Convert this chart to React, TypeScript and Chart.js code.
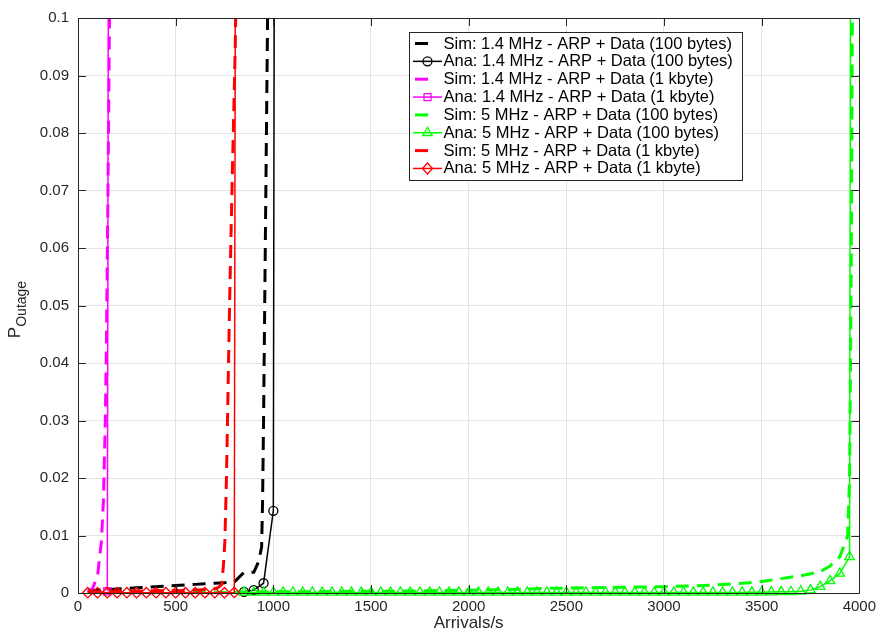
import React, { useEffect, useRef } from 'react';
import { Chart, registerables } from 'chart.js';

Chart.register(...registerables);

const FONT = '"Liberation Sans", Arial, Helvetica, sans-serif';

const xTickValues = [0, 500, 1000, 1500, 2000, 2500, 3000, 3500, 4000];
const xTickLabels = ['0', '500', '1000', '1500', '2000', '2500', '3000', '3500', '4000'];
const yTickValues = [0, 0.01, 0.02, 0.03, 0.04, 0.05, 0.06, 0.07, 0.08, 0.09, 0.1];
const yTickLabels = ['0', '0.01', '0.02', '0.03', '0.04', '0.05', '0.06', '0.07', '0.08', '0.09', '0.1'];

const seriesNames = [
  'Sim: 1.4 MHz - ARP + Data (100 bytes)',
  'Ana: 1.4 MHz - ARP + Data (100 bytes)',
  'Sim: 1.4 MHz - ARP + Data (1 kbyte)',
  'Ana: 1.4 MHz - ARP + Data (1 kbyte)',
  'Sim: 5 MHz - ARP + Data (100 bytes)',
  'Ana: 5 MHz - ARP + Data (100 bytes)',
  'Sim: 5 MHz - ARP + Data (1 kbyte)',
  'Ana: 5 MHz - ARP + Data (1 kbyte)',
];

// 1.4 MHz, 100 bytes
const simBlackX = [50, 100, 150, 200, 250, 300, 350, 400, 450, 500, 550, 600, 650, 700, 750, 800, 850, 900, 925, 940, 945, 950, 955, 960, 965, 970, 975];
const simBlackY = [0.0004, 0.0005, 0.0006, 0.0007, 0.0008, 0.0009, 0.001, 0.0011, 0.0012, 0.0013, 0.0014, 0.0015, 0.0016, 0.0017, 0.0018, 0.0019, 0.0036, 0.0036, 0.0055, 0.008, 0.016, 0.03, 0.047, 0.064, 0.081, 0.098, 0.115];
const anaBlackX = [850, 900, 950, 1000, 1050];
const anaBlackY = [0.0002, 0.0005, 0.0017, 0.0143, 1];

// 1.4 MHz, 1 kbyte
const simMagX = [50, 75, 100, 110, 120, 130, 140, 145, 150, 155, 160, 165];
const simMagY = [0.0002, 0.0008, 0.003, 0.006, 0.009, 0.016, 0.03, 0.042, 0.058, 0.076, 0.095, 0.115];
const anaMagX = [150, 200];
const anaMagY = [0.0003, 1];

// 5 MHz, 100 bytes
const simGreenX = [50, 200, 400, 600, 800, 1000, 1200, 1400, 1600, 1800, 2000, 2200, 2400, 2600, 2800, 3000, 3200, 3400, 3500, 3600, 3700, 3800, 3850, 3900, 3940, 3950, 3955, 3960, 3963, 3966, 3970];
const simGreenY = [0.0001, 0.0001, 0.0001, 0.0001, 0.0001, 0.0002, 0.0002, 0.0003, 0.0003, 0.0004, 0.0005, 0.0006, 0.0008, 0.0009, 0.001, 0.0011, 0.0013, 0.0017, 0.002, 0.0025, 0.003, 0.0037, 0.0047, 0.0063, 0.0099, 0.02, 0.04, 0.065, 0.09, 0.11, 0.13];
const anaGreenX = [
  850, 900, 950, 1000,
  1050, 1100, 1150, 1200, 1250, 1300, 1350, 1400, 1450, 1500, 1550, 1600, 1650, 1700, 1750, 1800, 1850, 1900, 1950, 2000,
  2050, 2100, 2150, 2200, 2250, 2300, 2350, 2400, 2450, 2500, 2550, 2600, 2650, 2700, 2750, 2800, 2850, 2900, 2950, 3000,
  3050, 3100, 3150, 3200, 3250, 3300, 3350, 3400, 3450, 3500, 3550, 3600, 3650, 3700, 3750, 3800, 3850, 3900, 3950, 4000,
];
const anaGreenY = [
  0.0001, 0.0001, 0.0001, 0.0001,
  0.0001, 0.0001, 0.0001, 0.0001, 0.0001, 0.0001, 0.0001, 0.0001, 0.0001, 0.0001, 0.0001, 0.0001, 0.0001, 0.0001, 0.0001, 0.0001, 0.0001, 0.0001, 0.0001, 0.0001,
  0.0001, 0.0001, 0.0001, 0.0001, 0.0001, 0.0001, 0.0001, 0.0001, 0.0001, 0.0001, 0.0001, 0.0001, 0.0001, 0.0001, 0.0001, 0.0001, 0.0001, 0.0001, 0.0001, 0.0001,
  0.0001, 0.0001, 0.0001, 0.0001, 0.0001, 0.0001, 0.0001, 0.0001, 0.00012, 0.00014, 0.00016, 0.0002, 0.00022, 0.0003, 0.0005, 0.0011, 0.0021, 0.0034, 0.0063, 1,
];

// 5 MHz, 1 kbyte
const simRedX = [50, 100, 200, 300, 400, 500, 600, 650, 700, 720, 736, 745, 752, 760, 768, 776, 785, 795, 805, 812];
const simRedY = [0.0002, 0.0002, 0.0003, 0.0003, 0.0004, 0.0004, 0.0005, 0.0006, 0.0007, 0.001, 0.0015, 0.005, 0.009, 0.02, 0.035, 0.05, 0.065, 0.08, 0.095, 0.11];
const anaRedX = [50, 100, 150, 200, 250, 300, 350, 400, 450, 500, 550, 600, 650, 700, 750, 800, 850];
const anaRedY = [0.00005, 0.00005, 0.00005, 0.00005, 0.00005, 0.00005, 0.00005, 0.00005, 0.00005, 0.00005, 0.00005, 0.00005, 0.00005, 0.00005, 0.00005, 0.0001, 1];

type Series = { x: number[]; y: number[]; color: string; kind: 'sim' | 'ana'; marker?: string };

const seriesList: Series[] = [
  { x: simBlackX, y: simBlackY, color: '#000000', kind: 'sim' },
  { x: anaBlackX, y: anaBlackY, color: '#000000', kind: 'ana', marker: 'circle' },
  { x: simMagX, y: simMagY, color: '#ff00ff', kind: 'sim' },
  { x: anaMagX, y: anaMagY, color: '#ff00ff', kind: 'ana', marker: 'square' },
  { x: simGreenX, y: simGreenY, color: '#00ff00', kind: 'sim' },
  { x: anaGreenX, y: anaGreenY, color: '#00ff00', kind: 'ana', marker: 'triangle' },
  { x: simRedX, y: simRedY, color: '#ff0000', kind: 'sim' },
  { x: anaRedX, y: anaRedY, color: '#ff0000', kind: 'ana', marker: 'diamond' },
];

const chartStyleFor = (m?: string) =>
  m === 'circle' ? 'circle' : m === 'square' ? 'rect' : m === 'triangle' ? 'triangle' : 'rectRot';
const radiusFor = (m?: string) => (m === 'circle' ? 4.5 : m === 'square' ? 5 : m === 'triangle' ? 5.5 : 5.2);

function drawMarker(ctx: CanvasRenderingContext2D, m: string, x: number, y: number, color: string) {
  ctx.save();
  ctx.strokeStyle = color;
  ctx.lineWidth = 1.3;
  ctx.beginPath();
  if (m === 'circle') {
    ctx.arc(x, y, 4.5, 0, Math.PI * 2);
  } else if (m === 'square') {
    ctx.rect(x - 3.5, y - 3.5, 7, 7);
  } else if (m === 'triangle') {
    ctx.moveTo(x, y - 5.5);
    ctx.lineTo(x + 4.8, y + 2.75);
    ctx.lineTo(x - 4.8, y + 2.75);
    ctx.closePath();
  } else {
    ctx.moveTo(x - 5, y);
    ctx.lineTo(x, y - 5.5);
    ctx.lineTo(x + 5, y);
    ctx.lineTo(x, y + 5.5);
    ctx.closePath();
  }
  ctx.stroke();
  ctx.restore();
}

const overlayPlugin = {
  id: 'matlabOverlay',
  afterDatasetsDraw(chart: any) {
    const { ctx, chartArea } = chart;
    const { left, right, top, bottom } = chartArea;
    const xs = chart.scales.x;
    const ys = chart.scales.y;
    ctx.save();
    ctx.strokeStyle = '#262626';
    ctx.lineWidth = 1;
    ctx.beginPath();
    ctx.rect(Math.round(left) + 0.5, Math.round(top) + 0.5, Math.round(right - left), Math.round(bottom - top));
    ctx.stroke();
    const tl = 8;
    ctx.beginPath();
    xTickValues.forEach((v) => {
      const px = Math.round(xs.getPixelForValue(v)) + 0.5;
      ctx.moveTo(px, bottom);
      ctx.lineTo(px, bottom - tl);
      ctx.moveTo(px, top);
      ctx.lineTo(px, top + tl);
    });
    yTickValues.forEach((v) => {
      const py = Math.round(ys.getPixelForValue(v)) + 0.5;
      ctx.moveTo(left, py);
      ctx.lineTo(left + tl, py);
      ctx.moveTo(right, py);
      ctx.lineTo(right - tl, py);
    });
    ctx.stroke();
    ctx.restore();
  },
  afterDraw(chart: any) {
    const { ctx, chartArea } = chart;
    ctx.save();
    // Legend
    const bx = 409.5, by = 32.5, bw = 333, bh = 148;
    ctx.fillStyle = '#ffffff';
    ctx.fillRect(bx, by, bw, bh);
    ctx.strokeStyle = '#262626';
    ctx.lineWidth = 1;
    ctx.strokeRect(bx, by, bw, bh);
    ctx.font = `16.5px ${FONT}`;
    ctx.textBaseline = 'middle';
    ctx.textAlign = 'left';
    seriesList.forEach((s, i) => {
      const yy = 43.5 + i * 17.85;
      if (s.kind === 'sim') {
        ctx.strokeStyle = s.color;
        ctx.lineWidth = 3;
        ctx.beginPath();
        ctx.moveTo(415, yy);
        ctx.lineTo(428, yy);
        ctx.stroke();
      } else {
        ctx.strokeStyle = s.color;
        ctx.lineWidth = 1.5;
        ctx.beginPath();
        ctx.moveTo(413, yy);
        ctx.lineTo(442, yy);
        ctx.stroke();
        drawMarker(ctx, s.marker || 'circle', 427.5, yy, s.color);
      }
      ctx.fillStyle = '#000000';
      ctx.fillText(seriesNames[i], 443.5, yy + 0.5);
    });
    // Axis titles
    ctx.fillStyle = '#262626';
    ctx.font = `17px ${FONT}`;
    ctx.textAlign = 'center';
    ctx.textBaseline = 'alphabetic';
    ctx.fillText('Arrivals/s', (chartArea.left + chartArea.right) / 2, 628);
    // Y title P_Outage
    ctx.save();
    const cy = (chartArea.top + chartArea.bottom) / 2 + 4;
    ctx.translate(20, cy);
    ctx.rotate(-Math.PI / 2);
    ctx.textAlign = 'left';
    ctx.font = `17px ${FONT}`;
    const pW = ctx.measureText('P').width;
    ctx.font = `14px ${FONT}`;
    const sW = ctx.measureText('Outage').width;
    const total = pW + sW;
    ctx.font = `17px ${FONT}`;
    ctx.fillText('P', -total / 2, 0);
    ctx.font = `14px ${FONT}`;
    ctx.fillText('Outage', -total / 2 + pW, 6);
    ctx.restore();
    ctx.restore();
  },
};

export default function App() {
  const ref = useRef<HTMLCanvasElement>(null);
  useEffect(() => {
    const canvas = ref.current;
    if (!canvas) return;
    const n = seriesList.length;
    const datasets = seriesList.map((s, i) => ({
      label: seriesNames[i],
      data: s.x.map((xv, j) => ({ x: xv, y: s.y[j] })),
      borderColor: s.color,
      backgroundColor: s.color,
      borderWidth: s.kind === 'sim' ? 3 : 1.5,
      borderDash: s.kind === 'sim' ? [13, 8] : [],
      pointRadius: s.kind === 'sim' ? 0 : radiusFor(s.marker),
      pointStyle: chartStyleFor(s.marker) as any,
      pointBorderColor: s.color,
      pointBackgroundColor: 'rgba(0,0,0,0)',
      pointBorderWidth: 1.3,
      pointHoverRadius: 0,
      tension: 0,
      fill: false,
      order: n - 1 - i,
      clip: { left: 10, right: 10, top: 0, bottom: 10 } as any,
    }));
    const chart = new Chart(canvas, {
      type: 'line',
      data: { datasets },
      options: {
        animation: false,
        responsive: false,
        devicePixelRatio: 1,
        events: [],
        layout: { padding: { top: 16, right: 20, left: 0, bottom: 0 } },
        plugins: { legend: { display: false }, tooltip: { enabled: false }, title: { display: false } },
        scales: {
          x: {
            type: 'linear',
            min: 0,
            max: 4000,
            afterBuildTicks: (s: any) => {
              s.ticks = xTickValues.map((v) => ({ value: v }));
            },
            afterFit: (s: any) => {
              s.height = 40;
            },
            ticks: {
              callback: (_v: any, i: number) => xTickLabels[i],
              font: { family: FONT, size: 15 },
              color: '#262626',
              padding: 5,
              maxRotation: 0,
              autoSkip: false,
            },
            grid: { color: '#e3e3e3', lineWidth: 1, drawTicks: false },
            border: { display: false },
          },
          y: {
            type: 'linear',
            min: 0,
            max: 0.1,
            afterBuildTicks: (s: any) => {
              s.ticks = yTickValues.map((v) => ({ value: v }));
            },
            afterFit: (s: any) => {
              s.width = 78;
            },
            ticks: {
              callback: (_v: any, i: number) => yTickLabels[i],
              font: { family: FONT, size: 15 },
              color: '#262626',
              padding: 9,
              autoSkip: false,
            },
            grid: { color: '#e3e3e3', lineWidth: 1, drawTicks: false },
            border: { display: false },
          },
        },
      },
      plugins: [overlayPlugin],
    });
    return () => chart.destroy();
  }, []);
  return (
    <div style={{ position: 'fixed', left: 0, top: 0, width: 881, height: 633, background: '#ffffff' }}>
      <canvas ref={ref} width={881} height={633} style={{ display: 'block', width: 881, height: 633 }} />
    </div>
  );
}
